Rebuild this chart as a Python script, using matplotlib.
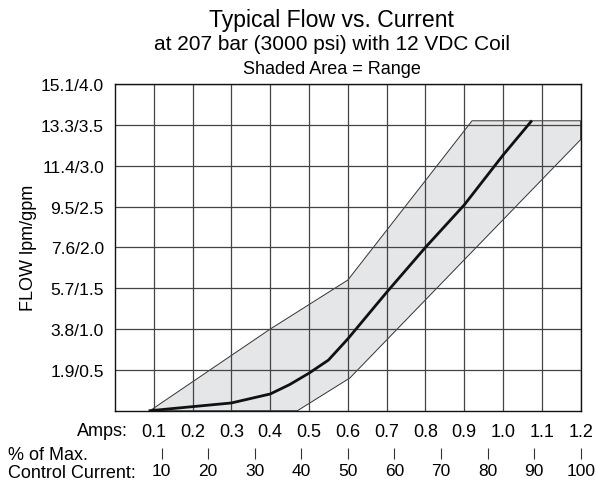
import matplotlib
matplotlib.use("Agg")
import matplotlib.pyplot as plt

plt.rcParams['font.family'] = ['Liberation Sans', 'DejaVu Sans']

# Datos (amperios / gpm)
amps_ticks = [0.1, 0.2, 0.3, 0.4, 0.5, 0.6, 0.7, 0.8, 0.9, 1.0, 1.1, 1.2]
amps_labels = ["0.1", "0.2", "0.3", "0.4", "0.5", "0.6", "0.7", "0.8", "0.9", "1.0", "1.1", "1.2"]
pct_ticks = [10, 20, 30, 40, 50, 60, 70, 80, 90, 100]
gpm_ticks = [0.5, 1.0, 1.5, 2.0, 2.5, 3.0, 3.5, 4.0]
flow_labels = ["1.9/0.5", "3.8/1.0", "5.7/1.5", "7.6/2.0", "9.5/2.5", "11.4/3.0", "13.3/3.5", "15.1/4.0"]

# curva tipica
amps_mid = [0.09, 0.20, 0.30, 0.40, 0.45, 0.50, 0.55, 0.60, 0.70, 0.80, 0.90, 1.00, 1.072]
gpm_mid = [0.0, 0.05, 0.095, 0.205, 0.32, 0.46, 0.62, 0.88, 1.45, 2.0, 2.52, 3.13, 3.54]

# limites del rango (zona sombreada)
amps_sup = [0.09, 0.40, 0.60, 0.92, 1.2]
gpm_sup = [0.0, 1.0, 1.6, 3.55, 3.55]
amps_inf = [0.47, 0.605, 1.2]
gpm_inf = [0.0, 0.40, 3.32]

fig = plt.figure(figsize=(5.96, 4.85), dpi=100)
ax = fig.add_axes([0.193, 0.1511, 0.7813, 0.6736])

# zona sombreada
poly_x = amps_sup + amps_inf[::-1]
poly_y = gpm_sup + gpm_inf[::-1]
ax.fill(poly_x, poly_y, facecolor="#e5e6e8", edgecolor="#333333", linewidth=0.7, zorder=1)

# curva central
ax.plot(amps_mid, gpm_mid, color="#111111", linewidth=2.0, zorder=3)

ax.set_xlim(0, 1.2)
ax.set_ylim(0, 4.0)
ax.set_xticks(amps_ticks)
ax.set_xticklabels(amps_labels, fontsize=13)
ax.set_yticks(gpm_ticks)
ax.set_yticklabels(flow_labels, fontsize=12.5)
ax.tick_params(axis='x', length=0, pad=9)
ax.tick_params(axis='y', length=0, pad=8)
ax.grid(True, color="#444444", linewidth=0.9)
for s in ax.spines.values():
    s.set_color("#111111")
    s.set_linewidth(1.0)

ax.set_ylabel("FLOW lpm/gpm", fontsize=13, labelpad=3)

# eje secundario: % de la corriente maxima
sec = ax.secondary_xaxis(-0.1145, functions=(lambda a: a / 1.2 * 100, lambda p: p * 1.2 / 100))
sec.set_xticks(pct_ticks)
sec.set_xticklabels([str(p) for p in pct_ticks], fontsize=12.5)
sec.tick_params(axis='x', length=8, width=0.8, color="#333333", pad=3)
sec.spines['bottom'].set_visible(False)

fig.text(128 / 596, 1 - 432 / 485, "Amps:", fontsize=13, ha="right", va="center")
fig.text(8 / 596, 1 - 456 / 485, "% of Max.", fontsize=13, ha="left", va="center")
fig.text(8 / 596, 1 - 474 / 485, "Control Current:", fontsize=13, ha="left", va="center")

fig.text(0.5566, 1 - 20 / 485, "Typical Flow vs. Current", fontsize=16.6, ha="center", va="center")
fig.text(0.5566, 1 - 45 / 485, "at 207 bar (3000 psi) with 12 VDC Coil", fontsize=15, ha="center", va="center")
fig.text(0.5566, 1 - 70 / 485, "Shaded Area = Range", fontsize=13, ha="center", va="center")

fig.savefig("out.png", dpi=100)
